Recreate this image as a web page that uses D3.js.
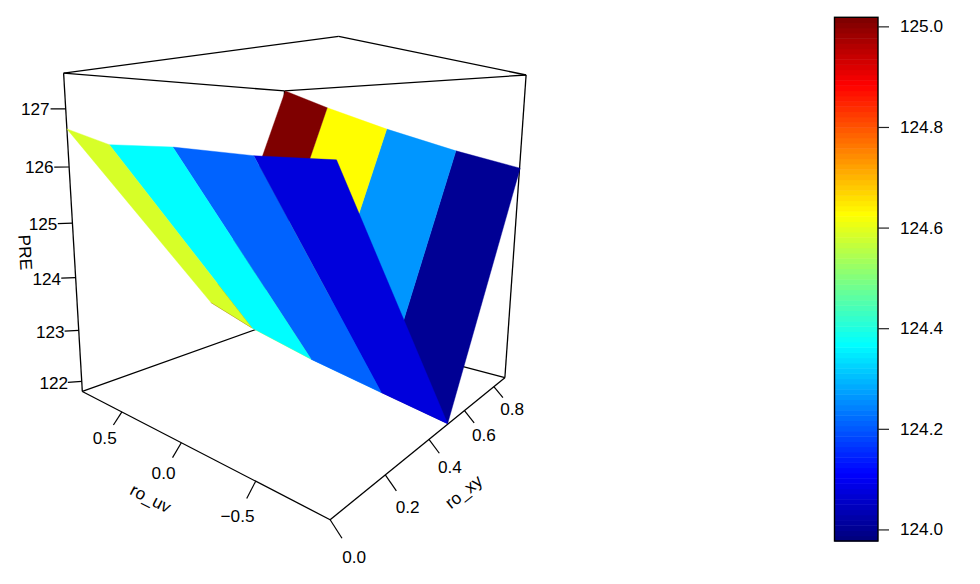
<!DOCTYPE html>
<html lang="en">
<head>
<meta charset="UTF-8" />
<title>PRE surface</title>
<style>
  body { margin: 0; background: #fff; overflow: hidden; }
  svg { position: absolute; top: 0; left: 0; }
  text { font-family: "Liberation Sans", Arial, sans-serif; font-size: 17.2px; fill: #000; }
</style>
</head>
<body>
<svg id="chart" width="980" height="584"></svg>
<script src="https://d3js.org/d3.v7.min.js"></script>
<script>
  const roUv = [-0.9, -0.5, 0, 0.5, 0.9];
  const roXy = [0, 0.5, 0.89];
  const pre = [
    [126.27, 126.29, 126.38, 126.40, 126.66],
    [121.81, 121.98, 122.20, 122.49, 122.81],
    [125.92, 126.22, 126.66, 127.16, 127.60]
  ];
  const facetCol = [
    [124.08, 124.21, 124.37, 124.59],
    [124.0, 124.26, 124.63, 125.02]
  ];
  const uvTicks = [-0.5, 0, 0.5];
  const xyTicks = [0, 0.2, 0.4, 0.6, 0.8];
  const zTicks = [122, 123, 124, 125, 126, 127];
  const barTicks = [124, 124.2, 124.4, 124.6, 124.8, 125];
  const jetStops = ["#00007F", "#0000FF", "#007FFF", "#00FFFF", "#7FFF7F", "#FFFF00", "#FF7F00", "#FF0000", "#7F0000"];

  const uvExtent = [-0.9, 0.9], xyExtent = [0, 0.885], zExtent = [121.8, 127.6], barExtent = [123.977, 125.018];

  const svg = d3.select("#chart");
  const sx = d3.scaleLinear().domain(uvExtent).range([0, 1]);
  const sy = d3.scaleLinear().domain(xyExtent).range([0, 1]);
  const sz = d3.scaleLinear().domain(zExtent).range([0, 1]);

  // where the box corners land on the page, the camera gets fitted to these
  const boxCorners = [
    [0, 0, 0, 331, 521], [1, 0, 0, 84.7, 391.7], [0, 1, 0, 506.7, 376], [1, 1, 0, 280.3, 320],
    [0, 0, 1, 335, 36.3], [1, 0, 1, 62.7, 72], [0, 1, 1, 525.7, 76], [1, 1, 1, 287, 91]
  ];

  function fitCamera(pts) {
    const n = 11, M = d3.range(n).map(() => new Array(n + 1).fill(0));
    const add = (r, b) => {
      for (let i = 0; i < n; i++) {
        for (let j = 0; j < n; j++) M[i][j] += r[i] * r[j];
        M[i][n] += r[i] * b;
      }
    };
    pts.forEach(([a, b, c, px, py]) => {
      add([a, b, c, 1, 0, 0, 0, 0, -px * a, -px * b, -px * c], px);
      add([0, 0, 0, 0, a, b, c, 1, -py * a, -py * b, -py * c], py);
    });
    for (let i = 0; i < n; i++) {
      let p = i;
      for (let r = i + 1; r < n; r++) if (Math.abs(M[r][i]) > Math.abs(M[p][i])) p = r;
      [M[i], M[p]] = [M[p], M[i]];
      for (let r = 0; r < n; r++) {
        if (r === i) continue;
        const f = M[r][i] / M[i][i];
        for (let c = i; c <= n; c++) M[r][c] -= f * M[i][c];
      }
    }
    return M.map((row, i) => row[n] / row[i]);
  }
  const cam = fitCamera(boxCorners);

  function projectUnit(a, b, c) {
    const w = cam[8] * a + cam[9] * b + cam[10] * c + 1;
    return [(cam[0] * a + cam[1] * b + cam[2] * c + cam[3]) / w, (cam[4] * a + cam[5] * b + cam[6] * c + cam[7]) / w];
  }
  const project = (uv, xy, z) => projectUnit(sx(uv), sy(xy), sz(z));

  const ramp = d3.scaleLinear().domain(d3.range(jetStops.length).map(i => i / (jetStops.length - 1))).range(jetStops);
  const jet = d3.range(100).map(i => ramp(i / 99));
  const colour = v => jet[Math.max(0, Math.min(99, Math.floor((v - barExtent[0]) / (barExtent[1] - barExtent[0]) * 100)))];

  // box
  const line = d3.line();
  const edges = [
    [[0,0,1],[1,0,1]], [[1,0,1],[1,1,1]], [[1,1,1],[0,1,1]], [[0,1,1],[0,0,1]],
    [[1,0,0],[1,0,1]], [[0,1,0],[0,1,1]], [[1,1,0],[1,1,1]],
    [[1,0,0],[1,1,0]], [[1,1,0],[0,1,0]],
    [[1,0,0],[0,0,0]], [[0,0,0],[0,1,0]]
  ];
  svg.append("g").selectAll("path").data(edges).enter().append("path")
    .attr("d", d => line(d.map(p => projectUnit(...p))))
    .attr("fill", "none").attr("stroke", "#000").attr("stroke-width", 1.3);

  // surface, back row first
  const facets = [];
  for (let j = roXy.length - 2; j >= 0; j--) {
    for (let i = 0; i < roUv.length - 1; i++) {
      facets.push({
        col: facetCol[j][i],
        pts: [project(roUv[i], roXy[j], pre[j][i]), project(roUv[i + 1], roXy[j], pre[j][i + 1]),
              project(roUv[i + 1], roXy[j + 1], pre[j + 1][i + 1]), project(roUv[i], roXy[j + 1], pre[j + 1][i])]
      });
    }
  }
  svg.append("g").selectAll("path").data(facets).enter().append("path")
    .attr("d", d => line(d.pts) + "Z")
    .attr("fill", d => colour(d.col)).attr("stroke", d => colour(d.col)).attr("stroke-width", 0.4);

  // axes: tick tips step out of the box in unit cube space, labels sit at twice that
  const axes = [
    { ticks: uvTicks, at: t => [sx(t), 0, 0], step: [0, -0.031, -0.03], fmt: d3.format(".1f") },
    { ticks: xyTicks, at: t => [0, sy(t), 0], step: [-0.032, 0, -0.029], fmt: d3.format(".1f") },
    { ticks: zTicks, at: t => [1, 0, sz(t)], step: [0.028, -0.033, 0], fmt: d3.format("d") }
  ];
  const minusFmt = s => s.replace("-", "\u2212");
  axes.forEach(ax => {
    const g = svg.append("g");
    const out = (t, k) => { const p = ax.at(t); return projectUnit(p[0] + k * ax.step[0], p[1] + k * ax.step[1], p[2] + k * ax.step[2]); };
    g.selectAll("path").data(ax.ticks).enter().append("path")
      .attr("d", t => line([out(t, 0), out(t, 1)]))
      .attr("stroke", "#000").attr("stroke-width", 1.2);
    g.selectAll("text").data(ax.ticks).enter().append("text")
      .attr("x", t => out(t, 2)[0]).attr("y", t => out(t, 2)[1]).attr("dy", "0.35em")
      .attr("text-anchor", "middle").text(t => minusFmt(ax.fmt(t)));
  });

  // axis titles, turned along their edge
  const angle = (a, b) => Math.atan2(b[1] - a[1], b[0] - a[0]) * 180 / Math.PI;
  const titles = [
    { text: "ro_uv", mid: project(0, 0, zExtent[0]), off: [-30.6, 55.6], rot: angle(projectUnit(1, 0, 0), projectUnit(0, 0, 0)) },
    { text: "ro_xy", mid: project(uvExtent[0], 0.45, zExtent[0]), off: [25, 60], rot: angle(projectUnit(0, 0, 0), projectUnit(0, 1, 0)) },
    { text: "PRE", mid: project(uvExtent[1], 0, 124.7), off: [-48, 12.7], rot: angle(projectUnit(1, 0, 1), projectUnit(1, 0, 0)) }
  ];
  svg.append("g").selectAll("text").data(titles).enter().append("text")
    .attr("transform", d => `translate(${d.mid[0] + d.off[0]},${d.mid[1] + d.off[1]}) rotate(${d.rot})`)
    .attr("dy", "0.35em").attr("text-anchor", "middle").text(d => d.text);

  // colour key
  const barY = d3.scaleLinear().domain(barExtent).range([541, 17.3]);
  const barBand = d3.scaleBand().domain(d3.range(100)).range([541, 17.3]);
  const key = svg.append("g");
  key.selectAll("rect").data(jet).enter().append("rect")
    .attr("x", 834.5).attr("width", 43.5)
    .attr("y", (d, i) => barBand(i)).attr("height", barBand.bandwidth() + 0.5)
    .attr("fill", d => d);
  key.append("rect").attr("x", 834.5).attr("width", 43.5).attr("y", 17.3).attr("height", 523.7)
    .attr("fill", "none").attr("stroke", "#000").attr("stroke-width", 1.4);
  key.call(g => {
    const axis = d3.axisRight(barY).tickValues(barTicks).tickSize(11).tickPadding(11).tickFormat(d3.format(".1f"));
    const a = g.append("g").attr("transform", "translate(878,0)").call(axis);
    a.select(".domain").remove();
    a.selectAll("line").attr("stroke", "#222").attr("stroke-width", 1.2);
    a.selectAll("text").style("font-size", "17.2px").style("font-family", '"Liberation Sans", Arial, sans-serif');
  });
</script>
</body>
</html>
